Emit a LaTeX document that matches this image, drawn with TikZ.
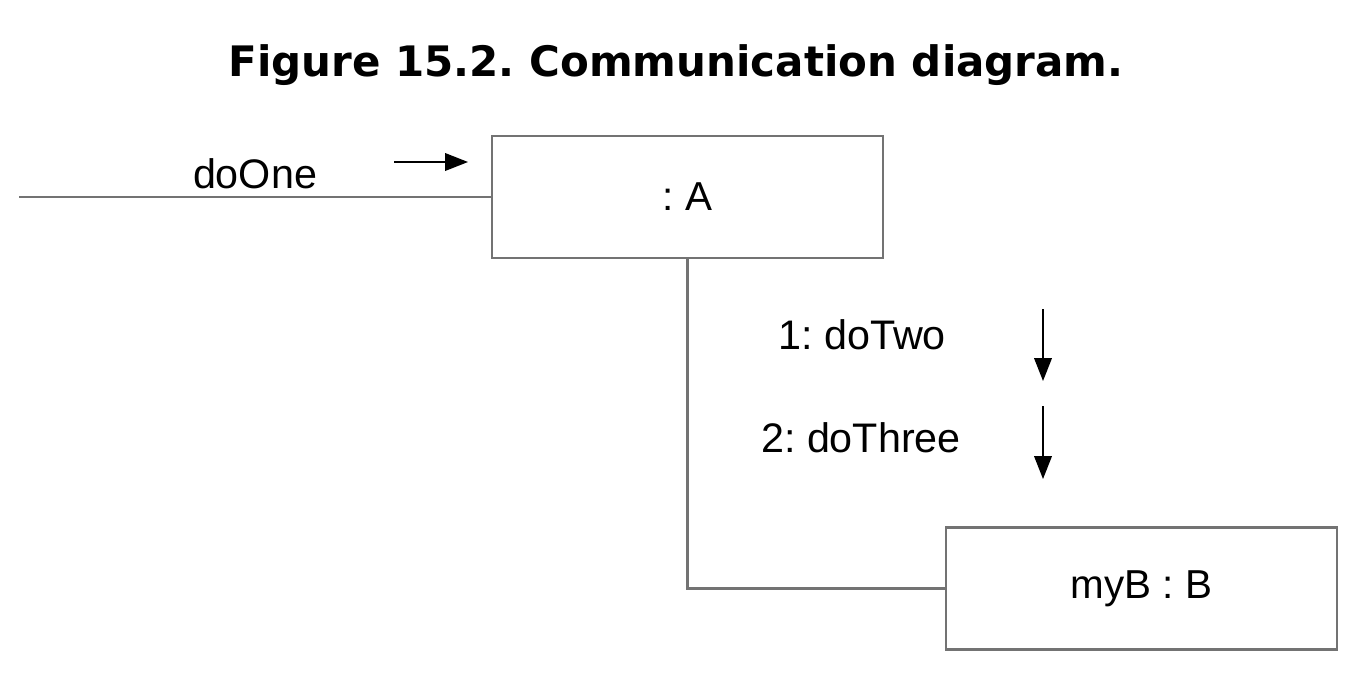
\documentclass[tikz,border=0pt]{standalone}
\usepackage{fontspec}
\setmainfont{Liberation Sans}
\newfontfamily\titlefont{DejaVu Sans}
\usetikzlibrary{arrows.meta}
\frenchspacing
\begin{document}
\begin{tikzpicture}[x=0.02cm,y=-0.02cm,
  objbox/.style={draw=linegray, line width=1.2pt, minimum width=391*0.02cm, minimum height=122*0.02cm, inner sep=0pt, font=\fontsize{23}{27}\selectfont},
  link/.style={draw=linegray, line width=1.2pt},
  msg/.style={-{Triangle[length=13pt,width=10pt]}, line width=0.9pt, black},
  lbl/.style={anchor=base, font=\fontsize{23.5}{27}\selectfont, inner sep=0pt}]
\definecolor{linegray}{RGB}{115,115,115}
\useasboundingbox (0,0) rectangle (1364,674);
\node[anchor=base, inner sep=0pt] (title) at (676,76) {\resizebox{17.9cm}{!}{\titlefont\bfseries\fontsize{26}{30}\selectfont Figure 15.2. Communication diagram.}};
\node[objbox] (A) at (687.5,197) {: A};
\node[objbox] (B) at (1141.5,588.5) {myB : B};
\coordinate (start) at (19,197);
\draw[link] (start) -- (A.west);
\draw[link] (A.south) |- (B.west);
\node[lbl] (l1) at (255,188) {doOne};
\node[lbl] (l2) at (862,349) {1: doTwo};
\node[lbl] (l3) at (861,452) {2: doThree};
\coordinate (a1s) at (394,162);
\coordinate (a1e) at (468,162);
\draw[msg] (a1s) -- (a1e);
\coordinate (a2s) at (1043,309);
\coordinate (a2e) at (1043,381);
\draw[msg] (a2s) -- (a2e);
\coordinate (a3s) at (1043,406);
\coordinate (a3e) at (1043,479);
\draw[msg] (a3s) -- (a3e);
\end{tikzpicture}
\end{document}
